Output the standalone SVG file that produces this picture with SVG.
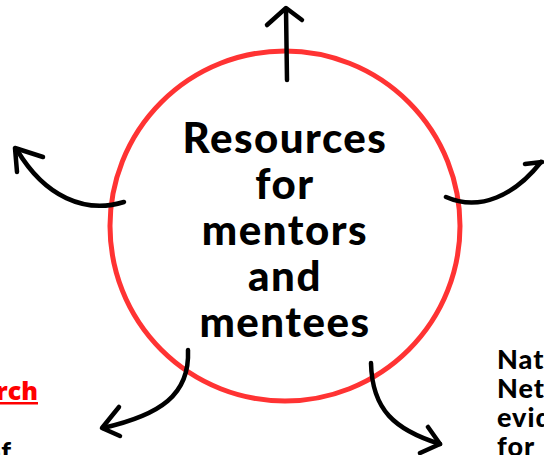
<svg xmlns="http://www.w3.org/2000/svg" width="544" height="455" viewBox="0 0 544 455">
<style>
.arrow{fill:none;stroke:#000;stroke-width:4.5;stroke-linecap:round;stroke-linejoin:round}
.title{font-family:Lato,"Liberation Sans",sans-serif;font-weight:900;font-size:42px;letter-spacing:1.5px;fill:#000;text-anchor:middle}
.side{font-family:Lato,"Liberation Sans",sans-serif;font-weight:900;font-size:27px;letter-spacing:1px;fill:#000}
.link{font-family:"Open Sans","Liberation Sans",sans-serif;font-weight:800;font-size:25px;fill:#ff0000;text-decoration:underline}
</style>
<rect width="544" height="455" fill="#fff"/>
<g id="center">
<circle cx="285" cy="226" r="175" fill="none" stroke="#ff3333" stroke-width="5"/>
<text class="title"><tspan x="285" y="153">Resources</tspan><tspan x="285" y="199">for</tspan><tspan x="285" y="245">mentors</tspan><tspan x="285" y="291">and</tspan><tspan x="285" y="337">mentees</tspan></text>
</g>
<g id="connectors">
<path class="arrow" d="M287 80 L286 9"/>
<path class="arrow" d="M267 25 L286 8 L302 20"/>
<path class="arrow" d="M124 202 C85 214 45 197 17 150"/>
<path class="arrow" d="M43 157 L15 148 L17 172"/>
<path class="arrow" d="M446 197 C480 212 515 195 541 162"/>
<path class="arrow" d="M525 164 L542 162"/>
<path class="arrow" d="M188 350 C190 395 160 415 103 428"/>
<path class="arrow" d="M119 407 L102 428 L120 436"/>
<path class="arrow" d="M371 363 C372 410 395 430 440 444"/>
<path class="arrow" d="M428 427 L440 444 L420 453"/>
</g>
<g id="left-text">
<text class="link" x="38" y="400" text-anchor="end">rch</text>
<text class="side" x="12" y="461" text-anchor="end">of</text>
</g>
<g id="right-text">
<text class="side"><tspan x="497" y="369">Nat</tspan><tspan x="497" y="398">Net</tspan><tspan x="497" y="427">evid</tspan><tspan x="497" y="456">for</tspan></text>
</g>
</svg>
